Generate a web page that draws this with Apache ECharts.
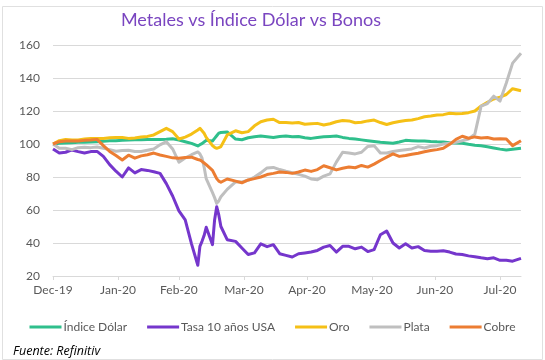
<!DOCTYPE html>
<html>
<head>
<meta charset="utf-8">
<script src="https://cdn.jsdelivr.net/npm/echarts@6/dist/echarts.min.js"></script>
<style>
html,body{margin:0;padding:0;background:#fff;}
#chart{width:545px;height:360px;}
</style>
</head>
<body>
<div id="chart"></div>
<script>
// ---- data ----
const dates = [
 '2019-12-31','2020-01-03','2020-01-06','2020-01-09','2020-01-12','2020-01-15','2020-01-18','2020-01-21','2020-01-24','2020-01-27',
 '2020-01-30','2020-02-02','2020-02-05','2020-02-08','2020-02-11','2020-02-14','2020-02-17','2020-02-20','2020-02-23','2020-02-26',
 '2020-02-29','2020-03-03','2020-03-06','2020-03-09','2020-03-10','2020-03-11','2020-03-12','2020-03-13','2020-03-16','2020-03-17',
 '2020-03-18','2020-03-19','2020-03-20','2020-03-23','2020-03-27','2020-03-30','2020-04-02','2020-04-05','2020-04-08','2020-04-11',
 '2020-04-14','2020-04-17','2020-04-20','2020-04-23','2020-04-26','2020-04-29','2020-05-02','2020-05-05','2020-05-08','2020-05-11',
 '2020-05-14','2020-05-17','2020-05-20','2020-05-23','2020-05-26','2020-05-29','2020-06-01','2020-06-04','2020-06-07','2020-06-10',
 '2020-06-13','2020-06-16','2020-06-19','2020-06-22','2020-06-25','2020-06-28','2020-07-01','2020-07-04','2020-07-07','2020-07-10',
 '2020-07-13','2020-07-16','2020-07-19','2020-07-22','2020-07-25','2020-07-28','2020-07-31','2020-08-03','2020-08-06','2020-08-10'
];
const indiceDolar = [
 100,100.4,100.6,100.8,101,101.1,101.2,101.4,101.6,101.9,
 102,102.2,102.4,102.5,102.6,102.7,102.8,102.8,102.9,103.2,
 102.4,101.4,100.4,98.8,99.6,100.2,101.2,102.2,101.8,103.4,
 105,106.6,107,107.3,103,102.6,103.8,104.4,104.8,104.4,
 104,104.6,104.8,104.4,104.6,103.8,103.4,104,104.4,104.6,
 104.8,104,103.4,103,102.5,102,101.5,101,100.8,100.4,
 101.2,102.2,102,101.8,101.8,101.5,101.3,101.2,100.8,100.6,
 100.4,99.8,99.3,98.9,98.3,97.6,96.9,96.4,96.8,97.4
];
const tasa10 = [
 97,94.5,95,96.4,95.4,94.5,95.4,95.5,92.5,87.5,
 83.5,80,85.5,82.5,84.5,84,83.2,82.2,76,68.5,
 59.5,54,39.5,26.5,38,41,44.5,49.5,39,54,
 62,57,50,42,41,37,33,34,39.5,37.8,
 39,33.5,32.5,31.5,33.5,34,34.5,35.5,37.5,38.5,
 34.5,38,38,36.5,37.5,34.8,36,45,47.3,40,
 37,39.5,37,37.8,35.5,35,35,35.3,34.5,33.3,
 33,32.2,31.7,31,30.5,31,29.5,29.5,29,30.7
];
const oro = [
 100,102,102.8,102.4,102.4,103,103.4,103.4,103.4,103.8,
 104,104,103.4,103.6,104.2,104.6,105.5,107.5,109.5,107.5,
 103,104.2,106,108.5,109.5,108,106.5,104,99,98,
 97.4,97.8,98.4,105.5,108,106.8,107.5,111,113.5,114.5,
 115,113,113,112.8,113,112,112.3,112.5,111.5,112.3,
 113.5,114.2,114,112.9,113.2,114,114.5,113,111.8,112.9,
 113.6,114.2,114.5,115.4,116.5,117,117.6,117.8,118.6,118.3,
 118.5,119,120,123,125.3,127.3,128.4,130,133.5,132.3
];
const plata = [
 100,97.4,97.4,96.6,97.8,98,97.8,98.2,97.4,96.6,
 95.6,96,96.2,95.4,95.4,96.2,97,99.5,101.4,97,
 89,91.5,93.5,95.2,94,91.5,86,79,70.5,67.5,
 64,65.5,68,72.5,77,77,78,80,82.5,85.5,
 85.8,84.5,83.5,82.6,81.6,80.5,78.8,78.4,80.5,81.9,
 89,95,94.5,94,95,98.5,99,94.5,94.5,95.5,
 96,96.5,97,98.4,97.6,98.6,99,100,100.5,101,
 102,103,106,123,124.5,129,126,137,149,155
];
const cobre = [
 100,101.4,101.8,101.8,101.8,102.2,102.4,102.8,99,95.5,
 93,90.3,93.2,91.4,92.8,93.5,94.5,93.3,92.5,91.6,
 91.4,91.8,92,90.6,90.3,89.5,88.5,87.5,84,81.5,
 79,77.5,76.8,78.8,77.5,76.5,78.2,79,80,81.5,
 82.2,83,82.8,82.2,83,84.2,83.4,84.5,86.8,85.6,
 84.3,85.3,86,85.6,87,86,87.8,90,92,94,
 92.5,93,93.8,94.4,95.3,96,96.6,97.4,99.8,102.8,
 104.7,103.5,104.3,103.6,103.9,103,103.2,103,99,102
];
const seriesNames = ['Índice Dólar','Tasa 10 años USA','Oro','Plata','Cobre'];
const seriesColors = ['#2fbf8c','#7536cc','#f5c016','#bfbfbf','#ec7d32'];
const tickDates = ['2019-12-31','2020-01-31','2020-02-29','2020-03-31','2020-04-30','2020-05-31','2020-06-30','2020-07-31'];
const monthNames = ['Jan','Feb','Mar','Apr','May','Jun','Jul','Aug','Sep','Oct','Nov','Dec'];
const yTicks = {min:20, max:160, interval:20};
const titleText = 'Metales vs Índice Dólar vs Bonos';
const sourceText = 'Fuente: Refinitiv';

// ---- build ----
function toTs(s){ const p = s.split('-').map(Number); return new Date(p[0], p[1]-1, p[2]).getTime(); }
const xs = dates.map(toTs);
const allValues = [indiceDolar, tasa10, oro, plata, cobre];
const FONT = 'Lato, "Open Sans", sans-serif';

const chart = echarts.init(document.getElementById('chart'), null, {renderer:'canvas'});
chart.setOption({
  animation:false,
  backgroundColor:'#ffffff',
  graphic:[{type:'rect', left:0, top:4, silent:true, z:-10,
    shape:{width:540, height:353}, style:{fill:'none', stroke:'#e0e0e0', lineWidth:1}}],
  title:[
    {text:titleText, left:246, top:6, textAlign:'center',
     textStyle:{color:'#7a45c0', fontSize:18, fontWeight:'normal', fontFamily:FONT}},
    {text:sourceText, left:8, top:340,
     textStyle:{color:'#000', fontSize:12.5, fontStyle:'italic', fontWeight:'normal', fontFamily:'"Open Sans", sans-serif'}}
  ],
  legend:{
    data:seriesNames, left:'center', top:316, itemWidth:32, itemHeight:3, itemGap:20,
    icon:'rect',
    textStyle:{color:'#595959', fontSize:12, fontFamily:FONT, padding:[0,0,0,-3]}
  },
  grid:{left:53, right:24, top:45, bottom:84},
  xAxis:{
    type:'value', min:toTs('2019-12-31'), max:toTs('2020-08-10'),
    axisLine:{lineStyle:{color:'#d9d9d9', width:1}},
    axisTick:{show:true, length:4, lineStyle:{color:'#d9d9d9'}, customValues:tickDates.map(toTs)},
    axisLabel:{customValues:tickDates.map(toTs), color:'#595959', fontSize:12, fontFamily:FONT, margin:8,
      formatter:function(v){ const d=new Date(v); return monthNames[d.getMonth()]+'-'+String(d.getFullYear()).slice(2);}},
    splitLine:{show:false}
  },
  yAxis:{
    type:'value', min:yTicks.min, max:yTicks.max, interval:yTicks.interval,
    axisLine:{show:false}, axisTick:{show:false},
    axisLabel:{color:'#595959', fontSize:12, fontFamily:FONT, margin:13},
    splitLine:{lineStyle:{color:'#d9d9d9', width:1}}
  },
  series: seriesNames.map((n,i)=>({
    name:n, type:'line', showSymbol:false, symbol:'none',
    color:seriesColors[i],
    lineStyle:{width:3, color:seriesColors[i], join:'round'},
    data: xs.map((t,k)=>[t, allValues[i][k]])
  }))
});
</script>
</body>
</html>
